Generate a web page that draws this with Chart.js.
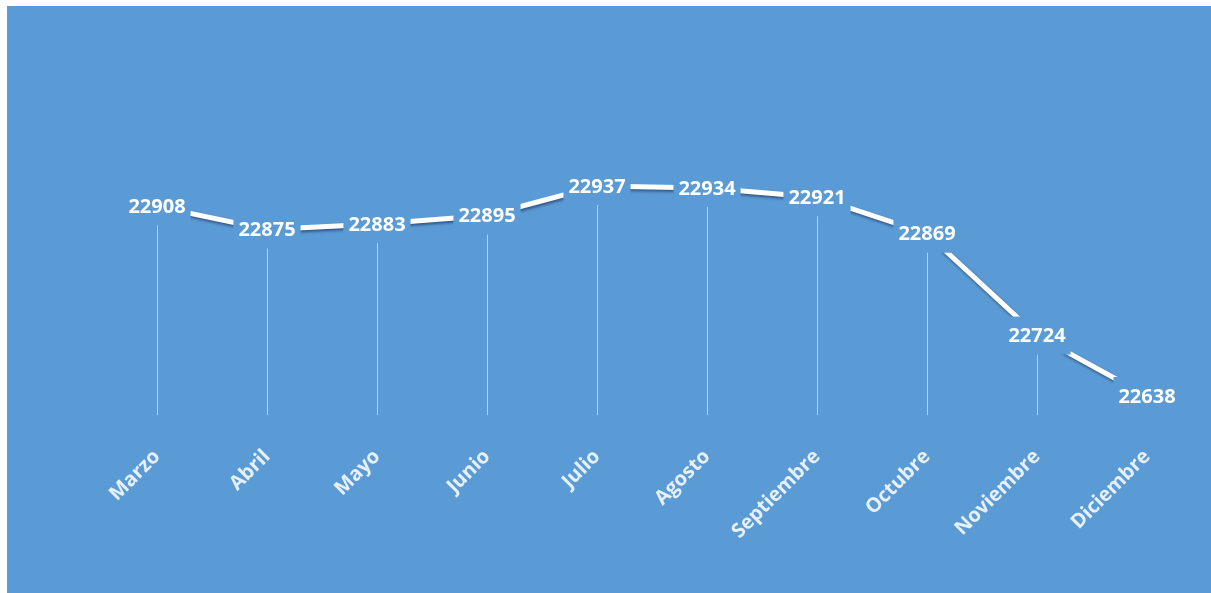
<!DOCTYPE html>
<html>
<head>
<meta charset="utf-8">
<script src="https://cdn.jsdelivr.net/npm/chart.js@4"></script>
<style>
  body { margin: 0; background: #fff; }
  #wrap { position: absolute; left: 7px; top: 6px; width: 1204px; height: 587px; background: #5b9bd5; }
</style>
</head>
<body>
<div id="wrap"><canvas id="lineChart"></canvas></div>
<script>
const months = ['Marzo', 'Abril', 'Mayo', 'Junio', 'Julio', 'Agosto', 'Septiembre', 'Octubre', 'Noviembre', 'Diciembre'];
const values = [22908, 22875, 22883, 22895, 22937, 22934, 22921, 22869, 22724, 22638];

const bgColor = '#5b9bd5';

// thin lines from each point down to the axis
const dropLines = {
    id: 'dropLines',
    beforeDatasetsDraw(chart) {
        const ctx = chart.ctx;
        const pts = chart.getDatasetMeta(0).data;
        ctx.save();
        ctx.strokeStyle = 'rgba(255,255,255,0.55)';
        ctx.lineWidth = 1;
        pts.forEach(p => {
            ctx.beginPath();
            ctx.moveTo(Math.round(p.x) + 0.5, p.y);
            ctx.lineTo(Math.round(p.x) + 0.5, chart.chartArea.bottom);
            ctx.stroke();
        });
        ctx.restore();
    }
};

// soft shadow under the line
const lineShadow = {
    id: 'lineShadow',
    beforeDatasetDraw(chart) {
        const ctx = chart.ctx;
        ctx.save();
        ctx.shadowColor = 'rgba(0,0,40,0.45)';
        ctx.shadowBlur = 3;
        ctx.shadowOffsetX = 1;
        ctx.shadowOffsetY = 2;
    },
    afterDatasetDraw(chart) {
        chart.ctx.restore();
    }
};

// value labels centred on the points, with a box that hides the lines behind
const valueLabels = {
    id: 'valueLabels',
    afterDatasetsDraw(chart) {
        const ctx = chart.ctx;
        const pts = chart.getDatasetMeta(0).data;
        ctx.save();
        ctx.font = 'bold 20px "Open Sans"';
        ctx.textAlign = 'center';
        ctx.textBaseline = 'middle';
        pts.forEach((p, i) => {
            const txt = String(values[i]);
            const w = ctx.measureText(txt).width;
            ctx.fillStyle = bgColor;
            ctx.fillRect(p.x - w / 2 - 5, p.y - 19, w + 10, 38);
            ctx.fillStyle = '#ffffff';
            ctx.fillText(txt, p.x, p.y + 1);
        });
        ctx.restore();
    }
};

new Chart(document.getElementById('lineChart').getContext('2d'), {
    type: 'line',
    data: {
        labels: months,
        datasets: [{
            data: values,
            borderColor: '#ffffff',
            borderWidth: 5,
            pointRadius: 0,
            tension: 0,
            fill: false,
        }]
    },
    options: {
        responsive: true,
        maintainAspectRatio: false,
        animation: false,
        layout: { padding: { left: 95, right: 9, top: 40, bottom: 0 } },
        plugins: { legend: { display: false }, tooltip: { enabled: false } },
        scales: {
            x: {
                offset: true,
                grid: { display: false },
                border: { display: false },
                afterFit: (scale) => { scale.height = 178; },
                ticks: {
                    color: 'rgba(255,255,255,0.85)',
                    font: { family: '"Open Sans"', size: 20, weight: 'bold' },
                    minRotation: 45,
                    maxRotation: 45,
                    padding: 22,
                }
            },
            y: {
                display: false,
                min: 22610.9,
                max: 23136.3,
            }
        }
    },
    plugins: [dropLines, lineShadow, valueLabels]
});
</script>
</body>
</html>
